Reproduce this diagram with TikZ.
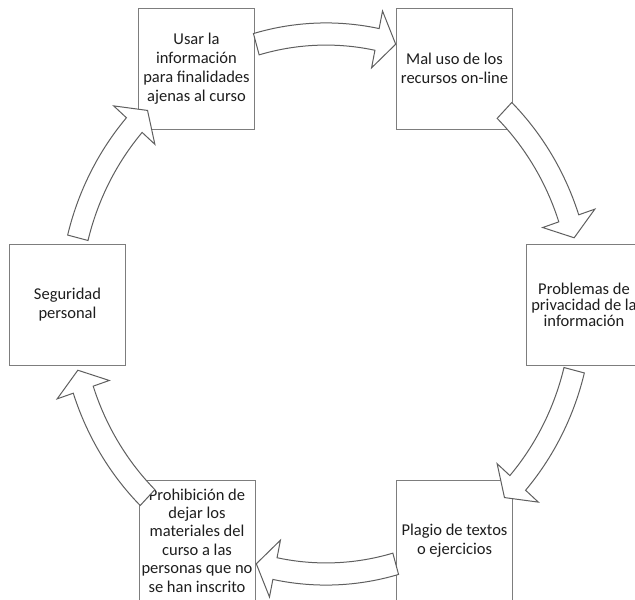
\documentclass[tikz,border=0pt]{standalone}
\usepackage{fontspec}
\setmainfont{Carlito}
\definecolor{boxgray}{RGB}{125,125,125}
\definecolor{arrgray}{RGB}{95,95,95}
\definecolor{textcol}{RGB}{30,30,30}
\newcommand\cycarrow[1]{%
  \pgfmathsetmacro\cyA{#1-15.8}%
  \pgfmathsetmacro\cyB{#1+11.5}%
  \pgfmathsetmacro\cyC{#1+15.8}%
  \draw[arr] plot[domain=\cyA:\cyB, samples=40] (\x:266.5) -- (\cyB:283.5) -- (\cyC:256)
     -- (\cyB:228.5) -- plot[domain=\cyB:\cyA, samples=40] (\x:245.5) -- cycle;%
}
\begin{document}
\begin{tikzpicture}[x=1pt,y=-1pt,
  box/.style={draw=boxgray, line width=1pt, fill=white, minimum width=116pt,
    minimum height=121pt, inner sep=0pt, align=center,
    font=\fontsize{16.5}{19}\selectfont, text=textcol},
  arr/.style={draw=arrgray, line width=1pt, fill=white, line join=miter}]
\useasboundingbox (0,0) rectangle (635,600);
\clip (0,0) rectangle (635,600);
\node[box] (b1) at (196.5,68.5) {Usar la\\información\\para finalidades\\ajenas al curso};
\node[box] (b2) at (454.5,68.5) {Mal uso de los\\recursos on-line};
\node[box, font=\fontsize{16.5}{16}\selectfont] (b3) at (584,305) {Problemas de\\privacidad de la\\información};
\node[box] (b4) at (454.5,540.5) {Plagio de textos\\o ejercicios};
\node[box, font=\fontsize{16.5}{18.4}\selectfont] (b5) at (197,540.5) {Prohibición de\\dejar los\\materiales del\\curso a las\\personas que no\\se han inscrito};
\node[box] (b6) at (67.5,305) {Seguridad\\personal};
\begin{scope}[shift={(326,304)}, yscale=1.0547]
  \cycarrow{-90}
  \cycarrow{-30}
  \cycarrow{30}
  \cycarrow{90}
  \cycarrow{150}
  \cycarrow{210}
\end{scope}
\end{tikzpicture}
\end{document}
